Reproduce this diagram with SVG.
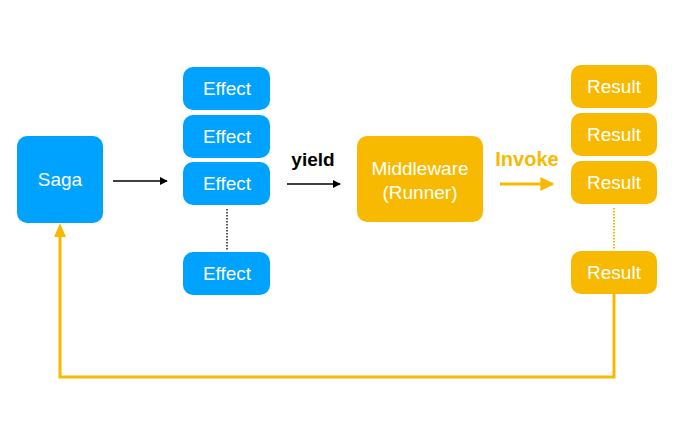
<svg xmlns="http://www.w3.org/2000/svg" width="688" height="429" viewBox="0 0 688 429">
<style>
.b{fill:#00A2FF}
.o{fill:#F8BA00}
.t{font-family:"Liberation Sans",Arial,sans-serif;font-size:19px;fill:#fff;text-anchor:middle}
</style>
<defs>
<marker id="ak" viewBox="0 0 10 10" refX="9" refY="5" markerWidth="8" markerHeight="8" markerUnits="userSpaceOnUse" orient="auto"><path d="M0,0L10,5L0,10z" fill="#000"/></marker>
<marker id="ao" viewBox="0 0 10 10" refX="9" refY="5" markerWidth="14" markerHeight="14" markerUnits="userSpaceOnUse" orient="auto"><path d="M0,0L10,5L0,10z" fill="#F8BA00"/></marker>
</defs>
<rect width="688" height="429" fill="#fff"/>
<g id="connectors">
<line x1="113" y1="181" x2="167" y2="181" stroke="#000" stroke-width="1.5" marker-end="url(#ak)"/>
<line x1="287" y1="184" x2="340" y2="184" stroke="#000" stroke-width="1.5" marker-end="url(#ak)"/>
<line x1="500" y1="184" x2="553" y2="184" stroke="#F8BA00" stroke-width="3" marker-end="url(#ao)"/>
<line x1="227" y1="209" x2="227" y2="250" stroke="#555" stroke-width="2" stroke-dasharray="1.5,1.5"/>
<line x1="614" y1="208" x2="614" y2="249" stroke="#F8BA00" stroke-width="2" stroke-dasharray="1.5,1.5"/>
<polyline points="614,294 614,377 60,377 60,236" fill="none" stroke="#F8BA00" stroke-width="3"/>
<path d="M54,237L60,223L66,237z" fill="#F8BA00"/>
<text x="313" y="166" font-family="Liberation Sans,Arial,sans-serif" font-size="19" font-weight="bold" text-anchor="middle" fill="#000">yield</text>
<text x="527" y="166" font-family="Liberation Sans,Arial,sans-serif" font-size="20" font-weight="bold" text-anchor="middle" fill="#F8BA00">Invoke</text>
</g>
<g id="saga"><rect class="b" x="17" y="136" width="86" height="87" rx="10"/><text class="t" x="60" y="186">Saga</text></g>
<g id="effect1"><rect class="b" x="183" y="67" width="87" height="43" rx="10"/><text class="t" x="227" y="95">Effect</text></g>
<g id="effect2"><rect class="b" x="183" y="115" width="87" height="43" rx="10"/><text class="t" x="227" y="143">Effect</text></g>
<g id="effect3"><rect class="b" x="183" y="162" width="87" height="43" rx="10"/><text class="t" x="227" y="190">Effect</text></g>
<g id="effect4"><rect class="b" x="183" y="252" width="87" height="43" rx="10"/><text class="t" x="227" y="280">Effect</text></g>
<g id="middleware"><rect class="o" x="357" y="136" width="126" height="86" rx="10"/><text class="t" x="420" y="175">Middleware</text><text class="t" x="420" y="199">(Runner)</text></g>
<g id="result1"><rect class="o" x="571" y="65" width="86" height="43" rx="10"/><text class="t" x="614" y="93">Result</text></g>
<g id="result2"><rect class="o" x="571" y="113" width="86" height="43" rx="10"/><text class="t" x="614" y="141">Result</text></g>
<g id="result3"><rect class="o" x="571" y="161" width="86" height="43" rx="10"/><text class="t" x="614" y="189">Result</text></g>
<g id="result4"><rect class="o" x="571" y="251" width="86" height="43" rx="10"/><text class="t" x="614" y="279">Result</text></g>
</svg>
